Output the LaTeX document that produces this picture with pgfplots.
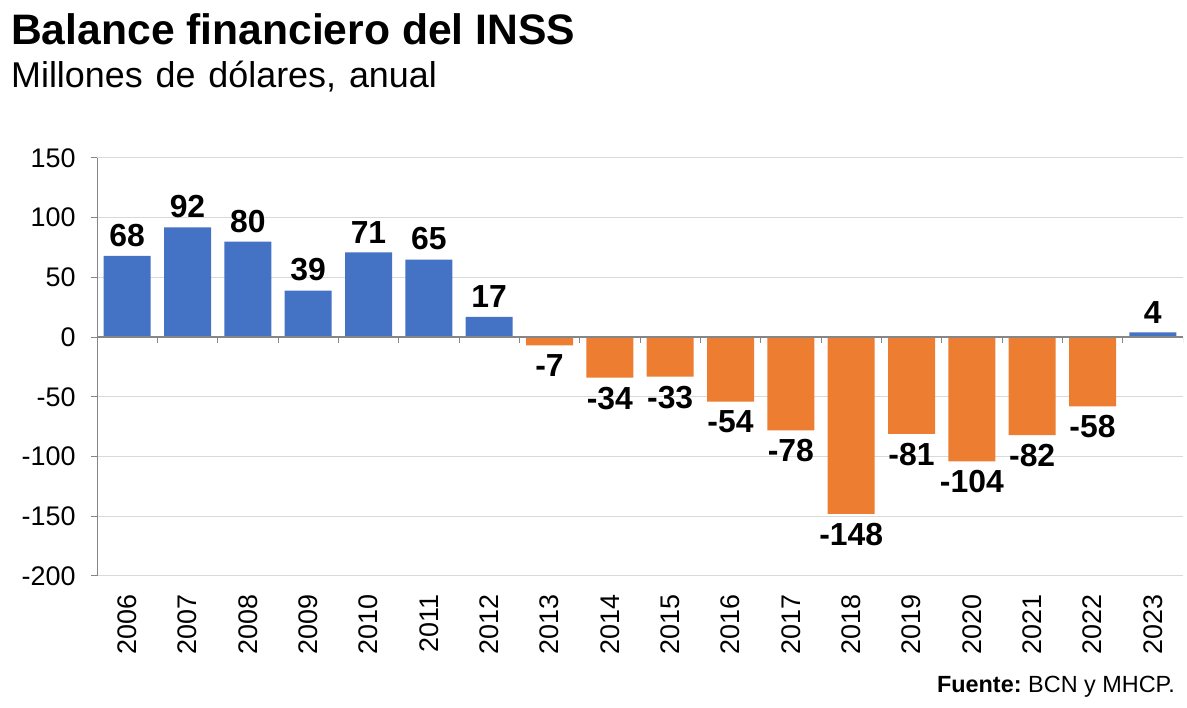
\documentclass[border=0pt]{standalone}
\usepackage{fontspec}
\setmainfont{Liberation Sans}
\usepackage{pgfplots}
\pgfplotsset{compat=1.18}
\definecolor{barblue}{HTML}{4472C4}
\definecolor{barorange}{HTML}{ED7D31}
\definecolor{gridgray}{HTML}{D9D9D9}
\definecolor{axisgray}{HTML}{868686}
\begin{document}
\begin{tikzpicture}[x=1bp,y=1bp]
\path[use as bounding box] (0,0) rectangle (1187,708);
\node[anchor=base west, inner sep=0, font=\bfseries\fontsize{42.8}{42.8}\selectfont] at (11,663) {Balance financiero del INSS};
\node[anchor=base west, inner sep=0, font=\fontsize{36}{36}\selectfont] at (11,620) {Millones\hspace{3bp} de\hspace{3bp} dólares,\hspace{3bp} anual};
\node[anchor=base east, inner sep=0, font=\fontsize{23.5}{23.5}\selectfont] at (1175,15) {\textbf{Fuente:}\hspace{-2bp} BCN y MHCP.};
\begin{axis}[
  at={(97bp,132bp)}, anchor=south west,
  scale only axis, width=1086bp, height=418bp,
  xmin=-0.5, xmax=17.5, ymin=-200, ymax=150,
  ytick={-200,-150,...,150},
  xtick={0,...,17},
  xticklabels={2006,2007,2008,2009,2010,2011,2012,2013,2014,2015,2016,2017,2018,2019,2020,2021,2022,2023},
  axis line style={draw=none},
  xtick style={draw=none},
  ytick pos=left,
  tick align=outside,
  major tick length=6bp,
  ytick style={axisgray, line width=1bp},
  ymajorgrids, grid style={gridgray, line width=1bp},
  /pgf/number format/assume math mode=true,
  ticklabel style={font=\fontsize{27}{27}\selectfont, black},
  yticklabel style={xshift=-12bp},
  xticklabel style={rotate=90, anchor=east, xshift=-9bp},
  ybar, bar width=47bp, bar shift=0pt,
  nodes near coords, nodes near coords align=vertical,
  every node near coord/.append style={font=\bfseries\fontsize{32}{32}\selectfont, black, inner sep=9bp},
]
\addplot[fill=barblue, draw=none] coordinates {(0,68) (1,92) (2,80) (3,39) (4,71) (5,65) (6,17) (17,4)};
\addplot[fill=barorange, draw=none] coordinates {(7,-7) (8,-34) (9,-33) (10,-54) (11,-78) (12,-148) (13,-81) (14,-104) (15,-82) (16,-58)};
\draw[axisgray, line width=1.3bp] (rel axis cs:0,0) -- (rel axis cs:0,1);
\draw[axisgray, line width=1.5bp] (axis cs:-0.5,0) -- (axis cs:17.5,0);
\pgfplotsinvokeforeach{0,...,18}{\draw[axisgray, line width=1bp] (axis cs:#1-0.5,0) -- ++(0pt,-6bp);}
\end{axis}
\end{tikzpicture}
\end{document}
